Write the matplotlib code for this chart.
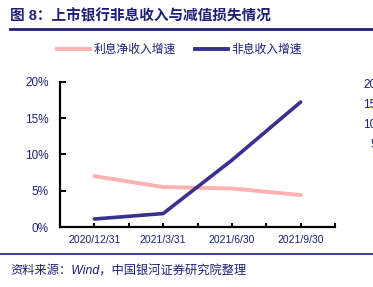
import matplotlib
matplotlib.use("Agg")
import matplotlib.pyplot as plt
import numpy as np
from matplotlib.lines import Line2D

plt.rcParams['font.family'] = ['Liberation Sans', 'Noto Sans CJK SC', 'DejaVu Sans']

# data
dates = ['2020/12/31', '2021/3/31', '2021/6/30', '2021/9/30']
net_interest_growth = [7.0, 5.5, 5.3, 4.4]
non_interest_growth = [1.1, 1.85, 9.2, 17.2]
right_ticks = [5, 10, 15, 20]

navy = '#1F1F7A'
pink = '#FFB0B0'
purple = '#3A3090'

fig = plt.figure(figsize=(3.73, 2.87), dpi=100)
ax = fig.add_axes([60/373, 1-227/287, 275/373, (227-81.7)/287])

x = np.arange(len(dates))
ax.plot(x, net_interest_growth, color=pink, lw=2.8, solid_capstyle='round')
ax.plot(x, non_interest_growth, color=purple, lw=2.6, solid_capstyle='round')

ax.set_xlim(-0.5, 3.5)
ax.set_ylim(0, 20)
ax.set_yticks([0, 5, 10, 15, 20])
ax.set_yticklabels([f'{v}%' for v in [0, 5, 10, 15, 20]])
ax.set_xticks(x)
ax.set_xticklabels(dates)
ax.set_xticks(np.arange(-0.5, 3.6, 0.5), minor=True)

for s in ['top', 'right']:
    ax.spines[s].set_visible(False)
for s in ['left', 'bottom']:
    ax.spines[s].set_linewidth(1.6)
ax.tick_params(axis='y', direction='in', length=4, width=1.4, labelsize=8.5,
               labelcolor=navy, pad=8)
ax.tick_params(axis='x', which='both', direction='in', length=3, width=1.4,
               labelsize=7.5, labelcolor=navy, pad=6)

# secondary axis, its labels run off the right edge
ax2 = ax.twinx()
ax2.set_ylim(-16, 20.4)
ax2.set_yticks(right_ticks)
ax2.set_yticklabels([str(v) for v in right_ticks], ha='right')
ax2.tick_params(axis='y', length=0, labelsize=8.5, labelcolor=navy, pad=30)
for s in ax2.spines.values():
    s.set_visible(False)

# legend
handles = [Line2D([], [], color=pink, lw=2.8), Line2D([], [], color=purple, lw=2.8)]
fig.legend(handles, ['利息净收入增速', '非息收入增速'], loc='center left',
           bbox_to_anchor=(57/373, 1-50/287), ncol=2, frameon=False,
           fontsize=8.5, labelcolor=navy, handlelength=2.8, handletextpad=0.3,
           columnspacing=1.6, borderaxespad=0, borderpad=0)

# title, rules and source
fig.text(10/373, 1-16/287, '图 8：上市银行非息收入与减值损失情况', fontsize=10.5,
         fontweight='bold', color=navy, va='center', ha='left')
fig.add_artist(Line2D([10/373, 1], [1-29/287, 1-29/287], color=navy, lw=2))
fig.add_artist(Line2D([0, 1], [1-254/287, 1-254/287], color=navy, lw=1.2))
fig.text(10/373, 1-272/287, '资料来源：Wind，中国银河证券研究院整理', fontsize=8.8,
         color=navy, va='center', ha='left', style='italic')

fig.savefig('out.png', dpi=100)
